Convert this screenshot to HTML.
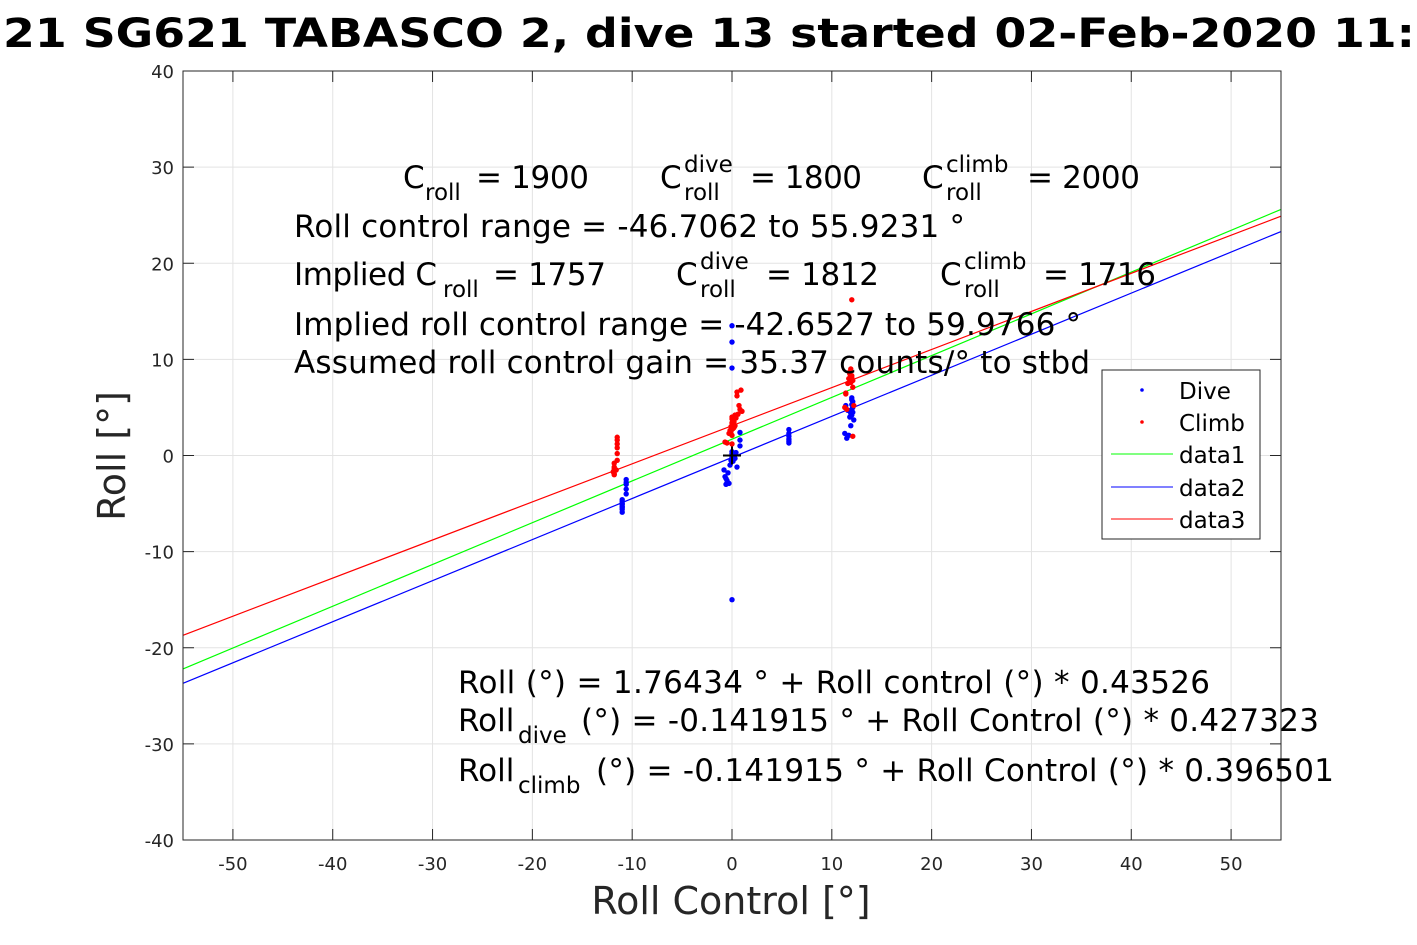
<!DOCTYPE html>
<html><head><meta charset="utf-8"><style>
html,body{margin:0;padding:0;background:#fff;}
svg{display:block;font-family:"DejaVu Sans","Liberation Sans",sans-serif;}
</style></head><body>
<svg id="chart" width="1417" height="945" viewBox="0 0 1417 945">
<rect x="0" y="0" width="1417" height="945" fill="#fff"/>
<text x="3" y="47" font-size="40" font-weight="bold" textLength="1412" lengthAdjust="spacingAndGlyphs">21 SG621 TABASCO 2, dive 13 started 02-Feb-2020 11:</text>
<rect x="183" y="71" width="1098" height="769" fill="#fff"/>
<g id="grid"></g>
<g id="ticks"></g>
<g id="lines"></g>
<g id="pts"></g>
<rect x="183" y="71" width="1098" height="769" fill="none" stroke="#262626" stroke-width="1"/>
<g font-size="31" fill="#000" lengthAdjust="spacingAndGlyphs">
<text x="403" y="188">C</text><text x="425" y="200" font-size="23">roll</text><text x="476" y="188" textLength="113">= 1900</text>
<text x="660" y="188">C</text><text x="684" y="172" font-size="23">dive</text><text x="684" y="200" font-size="23">roll</text><text x="750" y="188" textLength="112">= 1800</text>
<text x="922" y="188">C</text><text x="946" y="172" font-size="23">climb</text><text x="946" y="200" font-size="23">roll</text><text x="1027" y="188" textLength="113">= 2000</text>
<text x="294" y="237" textLength="671">Roll control range = -46.7062 to 55.9231 °</text>
<text x="294" y="285" textLength="143">Implied C</text><text x="443" y="297" font-size="23">roll</text><text x="493" y="285" textLength="113">= 1757</text>
<text x="676" y="285">C</text><text x="700" y="269" font-size="23">dive</text><text x="700" y="297" font-size="23">roll</text><text x="766" y="285" textLength="113">= 1812</text>
<text x="940" y="285">C</text><text x="964" y="269" font-size="23">climb</text><text x="964" y="297" font-size="23">roll</text><text x="1043" y="285" textLength="113">= 1716</text>
<text x="294" y="335" textLength="787">Implied roll control range = -42.6527 to 59.9766 °</text>
<text x="294" y="373" textLength="796">Assumed roll control gain = 35.37 counts/° to stbd</text>
<text x="458" y="693" textLength="752">Roll (°) = 1.76434 ° + Roll control (°) * 0.43526</text>
<text x="458" y="731">Roll</text><text x="518" y="743" font-size="23">dive</text><text x="581" y="731" textLength="738">(°) = -0.141915 ° + Roll Control (°) * 0.427323</text>
<text x="458" y="781">Roll</text><text x="518" y="793" font-size="23">climb</text><text x="596" y="781" textLength="738">(°) = -0.141915 ° + Roll Control (°) * 0.396501</text>
</g>
<text x="731" y="914" font-size="38" text-anchor="middle" fill="#262626">Roll Control [°]</text>
<text transform="translate(125,456) rotate(-90)" font-size="38" text-anchor="middle" fill="#262626">Roll [°]</text>
<g>
<rect x="1102" y="370" width="158" height="169" fill="#fff" stroke="#262626" stroke-width="1"/>
<g font-size="23" fill="#000">
<circle cx="1142" cy="390" r="1.8" fill="#0000ff"/><text x="1179" y="399">Dive</text>
<circle cx="1142" cy="422" r="1.8" fill="#ff0000"/><text x="1179" y="431">Climb</text>
<line x1="1111" y1="454" x2="1173" y2="454" stroke="#00ff00"/><text x="1179" y="463">data1</text>
<line x1="1111" y1="487" x2="1173" y2="487" stroke="#0000ff"/><text x="1179" y="496">data2</text>
<line x1="1111" y1="519" x2="1173" y2="519" stroke="#ff0000"/><text x="1179" y="528">data3</text>
</g></g>
</svg>
<script>
const xTicks=[-50,-40,-30,-20,-10,0,10,20,30,40,50];
const yTicks=[-40,-30,-20,-10,0,10,20,30,40];
const lineNames=['data1','data2','data3'];
const lineColors=['#00ff00','#0000ff','#ff0000'];
const lineStartY=[-22.2,-23.7,-18.7];
const lineEndY=[25.6,23.3,24.9];
const diveX=[-11,-11,-11,-11,-11,-11,-11,-11,-10.6,-10.6,-10.6,-10.6,-10.6,-0.8,-0.7,-0.6,-0.5,-0.4,-0.3,-0.2,-0.1,0,0,0,0,0.1,0.2,0.3,0.4,0.5,-0.6,0,0,0,0,0.8,0.8,0.8,5.7,5.7,5.7,5.7,5.7,5.7,11.3,11.5,11.7,11.9,12,12,12,12,12.1,12.1,12.2,11.4,11.8,11.9,12.1,12,11.6];
const diveY=[-4.6,-5,-5.3,-5.6,-5.9,-4.8,-5.1,-5.4,-2.5,-3,-3.5,-4,-2.8,-1.5,-2.2,-3,-2.6,-1.8,-2.9,-1,-0.5,0,0.4,-0.2,0.2,-0.6,0.1,-0.3,0.3,-1.2,-2.4,13.5,11.8,9.1,-15,2.4,1,1.6,1.3,1.7,2,2.3,2.7,1.5,2.3,1.8,2.1,3.1,4.2,4.8,5.3,6,5.6,4.5,3.7,5.2,4,4.4,5,5.8,4.7];
const climbX=[-11.8,-11.8,-11.8,-11.8,-11.8,-11.8,-11.5,-11.5,-11.5,-11.5,-11.5,-11.5,-11.9,-11.6,-0.7,-0.5,-0.3,-0.2,-0.1,0,0,0,0,0,0.1,0.2,0.3,0.3,0.5,0.7,0.9,1,0.5,0.6,-0.1,0,0.1,0.2,0.4,0.8,11.3,11.4,11.6,11.7,11.8,11.9,12,12.1,12.1,12.2,11.5,12,12.1,11.8,12,11.9,11.4];
const climbY=[-2,-1.6,-1.2,-0.8,-1.9,-1.4,0.2,-0.5,1.2,1.6,1.9,0.8,-1.7,-1.5,1.4,1.3,2.3,2.6,3,3.4,3.8,4,2.1,1.2,2.8,3.5,4.2,3.1,6.6,5.2,6.8,4.6,6.2,4.3,2.5,3,3.6,2.9,3.9,4.8,5,6.5,7.5,8,8.5,9,8.3,7.8,7.1,5.2,4.8,16.2,2,8.7,8.1,7.6,6.4];
const NS='http://www.w3.org/2000/svg';
const X0=183,X1=1281,Y0=71,Y1=840,XMIN=-55,XMAX=55,YMIN=-40,YMAX=40;
function sx(v){return X0+(v-XMIN)/(XMAX-XMIN)*(X1-X0);}
function sy(v){return Y1-(v-YMIN)/(YMAX-YMIN)*(Y1-Y0);}
function mk(tag,attrs,parent){const e=document.createElementNS(NS,tag);for(const k in attrs)e.setAttribute(k,attrs[k]);parent.appendChild(e);return e;}
const grid=document.getElementById('grid'),ticks=document.getElementById('ticks'),lines=document.getElementById('lines'),pts=document.getElementById('pts');
xTicks.forEach(t=>{const x=sx(t);
 let g=mk('line',{x1:x,y1:Y0,x2:x,y2:Y1,stroke:'#e3e3e3','stroke-width':1},grid);
 
 
 mk('line',{x1:x,y1:Y1,x2:x,y2:Y1-11,stroke:'#262626'},ticks);
 mk('line',{x1:x,y1:Y0,x2:x,y2:Y0+11,stroke:'#262626'},ticks);
 let l=mk('text',{x:x,y:870,'font-size':18,'text-anchor':'middle',fill:'#262626'},ticks);l.textContent=t;
 
 });
yTicks.forEach(t=>{const y=sy(t);
 let g=mk('line',{x1:X0,y1:y,x2:X1,y2:y,stroke:'#e3e3e3','stroke-width':1},grid);
 
 
 mk('line',{x1:X0,y1:y,x2:X0+11,y2:y,stroke:'#262626'},ticks);
 mk('line',{x1:X1,y1:y,x2:X1-11,y2:y,stroke:'#262626'},ticks);
 let l=mk('text',{x:174,y:y+7,'font-size':18,'text-anchor':'end',fill:'#262626'},ticks);l.textContent=t;
 
 });
lineNames.forEach((n,i)=>{
 let l=mk('line',{x1:sx(XMIN),y1:sy(lineStartY[i]),x2:sx(XMAX),y2:sy(lineEndY[i]),stroke:lineColors[i],'stroke-width':1.2},lines);
 
 });
diveX.forEach((v,i)=>{if(diveY[i]===undefined)return;let c=mk('circle',{cx:sx(v),cy:sy(diveY[i]),r:2.7,fill:'#0000ff'},pts);
 
 });
climbX.forEach((v,i)=>{if(climbY[i]===undefined)return;let c=mk('circle',{cx:sx(v),cy:sy(climbY[i]),r:2.7,fill:'#ff0000'},pts);
 
 });
let cr=mk('path',{d:`M${sx(0)-9},${sy(0)}H${sx(0)+9}M${sx(0)},${sy(0)-9}V${sy(0)+9}`,stroke:'#000','stroke-width':2},pts);


</script>
</body></html>
